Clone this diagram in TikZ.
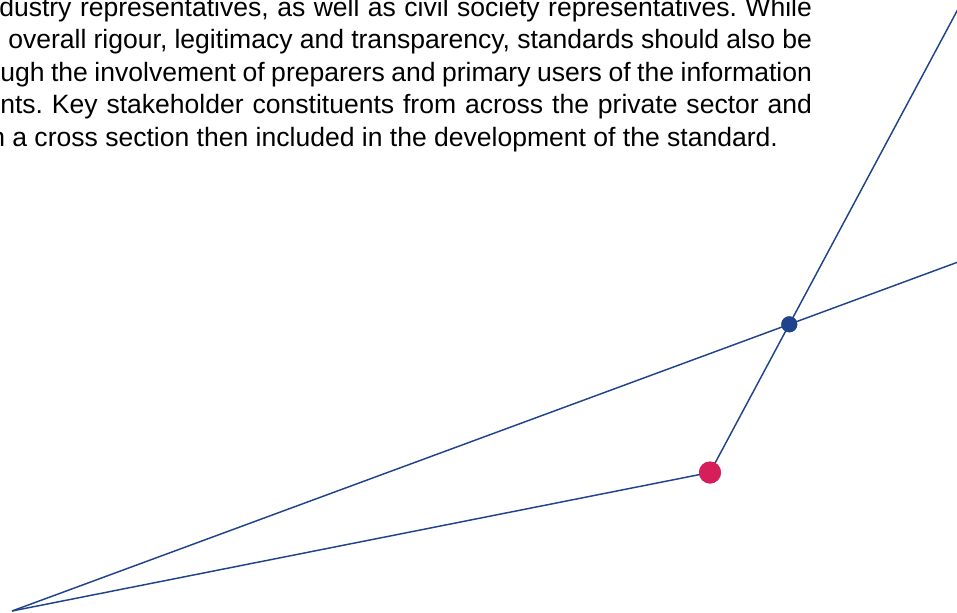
\documentclass[tikz,border=0pt]{standalone}
\usepackage{fontspec}
\setmainfont{Liberation Sans}
\frenchspacing
\definecolor{lineblue}{RGB}{31,68,140}
\definecolor{dotpink}{RGB}{214,30,90}

\begin{document}
\begin{tikzpicture}[x=.75pt, y=-.75pt,
	dotnode/.style={circle, inner sep=0, minimum size=#1},
	textline/.style={anchor=base west, inner sep=0, font=\fontsize{19.9}{24}\selectfont},
	link/.style={lineblue, line width=1.1pt}
	]
	\clip (0,0) rectangle (957,612);
	
	% paragraph, one justified line per node
	\node (l1) at (-1,16) [textline] {\makebox[609.5pt][s]{dustry representatives, as well as civil society representatives. While}};
	\node (l2) at (8,48.5) [textline] {\makebox[602.8pt][s]{overall rigour, legitimacy and transparency, standards should also be}};
	\node (l3) at (0,81) [textline] {\makebox[608.8pt][s]{ugh the involvement of preparers and primary users of the information}};
	\node (l4) at (0,113.5) [textline] {\makebox[608.8pt][s]{nts. Key stakeholder constituents from across the private sector and}};
	\node (l5) at (-10,146) [textline] {n a cross section then included in the development of the standard.};
	
	\coordinate (apex) at (12,611);
	\coordinate (rightend) at (970,257.6);
	\coordinate (topend) at (968.2,-10);
	
	\node (blue) at (789.3,324.3) [dotnode=12pt, fill=lineblue] {};
	\node (pink) at (710,472.5) [dotnode=16.5pt, fill=dotpink] {};
	
	\draw [link] (apex) -- (pink.center);
	\draw [link] (apex) -- (blue.center) -- (rightend);
	\draw [link] (pink.center) -- (topend);
	
	% dots on top of the lines
	\node at (blue) [dotnode=12pt, fill=lineblue] {};
	\node at (pink) [dotnode=16.5pt, fill=dotpink] {};
\end{tikzpicture}
\end{document}
